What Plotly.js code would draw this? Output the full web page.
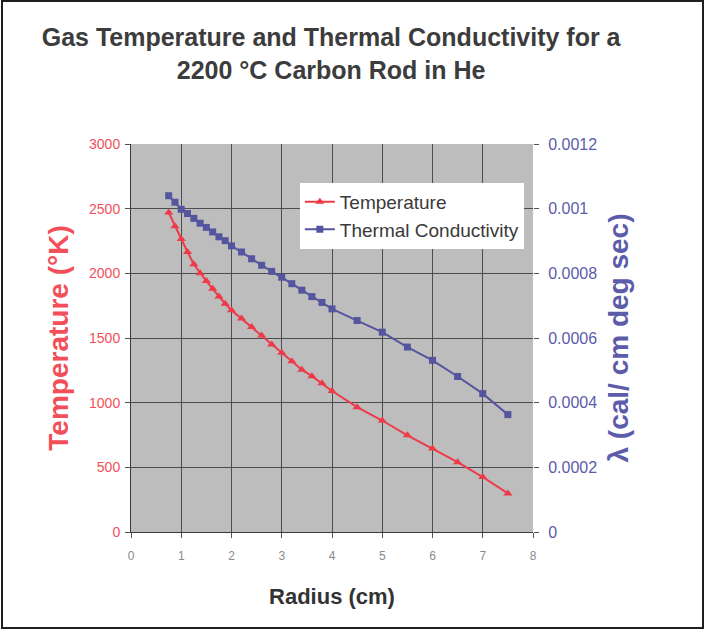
<!DOCTYPE html>
<html>
<head>
<meta charset="utf-8">
<script src="https://cdn.plot.ly/plotly-3.0.1.min.js"></script>
<style>
  html, body { margin: 0; padding: 0; background: #ffffff; }
  #wrap { position: relative; width: 706px; height: 630px; }
  #chart { position: absolute; left: 0; top: 0; width: 706px; height: 630px; }
  #frame { position: absolute; left: 1px; top: 0px; width: 703px; height: 629px;
           border: 2px solid #1e1e1e; box-sizing: border-box; pointer-events: none; }
</style>
</head>
<body>
<div id="wrap">
  <div id="chart"></div>
  <div id="frame"></div>
</div>
<script>
// Radius (cm)
var radius = [0.75, 0.875, 1.0, 1.125, 1.25, 1.375, 1.5, 1.625, 1.75, 1.875, 2.0,
              2.2, 2.4, 2.6, 2.8, 3.0, 3.2, 3.4, 3.6, 3.8, 4.0,
              4.5, 5.0, 5.5, 6.0, 6.5, 7.0, 7.5];
// Gas temperature (°K)
var temperature = [2470, 2365, 2265, 2165, 2070, 2000, 1940, 1880, 1820, 1765, 1715,
                   1650, 1585, 1520, 1450, 1385, 1320, 1255, 1205, 1150, 1090,
                   965, 862, 748, 645, 540, 425, 298];
// Thermal conductivity (cal/ cm deg sec)
var conductivity = [0.00104, 0.00102, 0.000998, 0.000985, 0.00097, 0.000955, 0.000942, 0.000928, 0.000913, 0.000901, 0.000885,
                    0.000866, 0.000845, 0.000825, 0.000806, 0.000788, 0.000768, 0.000748, 0.000728, 0.00071, 0.00069,
                    0.000654, 0.000618, 0.000572, 0.000531, 0.000481, 0.000428, 0.000363];
var seriesNames = ["Temperature", "Thermal Conductivity"];

var font = "Liberation Sans, Arial, Helvetica, sans-serif";
var redLine = "#ee3b49", redText = "#f24f5a";
var blueLine = "#55559f", blueText = "#5c5cab";

var traces = [
  {
    x: radius, y: temperature, name: seriesNames[0], type: "scatter", mode: "lines+markers",
    yaxis: "y",
    line: { color: redLine, width: 2 },
    marker: { symbol: "triangle-up", size: 8, color: redLine }
  },
  {
    x: radius, y: conductivity, name: seriesNames[1], type: "scatter", mode: "lines+markers",
    yaxis: "y2",
    line: { color: blueLine, width: 2 },
    marker: { symbol: "square", size: 7, color: blueLine }
  }
];

var layout = {
  width: 706, height: 630,
  margin: { l: 131, r: 173, t: 144, b: 98, pad: 0 },
  paper_bgcolor: "rgba(0,0,0,0)",
  plot_bgcolor: "#bdbdbd",
  showlegend: true,
  title: {
    text: "<b>Gas Temperature and Thermal Conductivity for a<br>2200 °C Carbon Rod in He</b>",
    font: { family: font, size: 25, color: "#3c3c3c" },
    x: 0.469, xref: "container", xanchor: "center",
    y: 1 - 46 / 630, yref: "container", yanchor: "middle"
  },
  xaxis: {
    range: [0, 8], dtick: 1, tick0: 0,
    showgrid: true, gridcolor: "#4d4d4d", gridwidth: 1,
    zeroline: false,
    showline: true, linecolor: "#3a3a3a", linewidth: 1,
    ticks: "outside", ticklen: 5, tickcolor: "#555555",
    tickfont: { family: font, size: 12, color: "#8a8a8a" },
    ticklabelstandoff: 8,
    title: { text: "<b>Radius (cm)</b>", font: { family: font, size: 22, color: "#333333" }, standoff: 26 }
  },
  yaxis: {
    range: [0, 3000], dtick: 500, tick0: 0,
    showgrid: true, gridcolor: "#4d4d4d", gridwidth: 1,
    zeroline: false,
    showline: true, linecolor: "#3a3a3a", linewidth: 1,
    ticks: "outside", ticklen: 5, tickcolor: "#555555",
    tickfont: { family: font, size: 14, color: redText },
    ticklabelstandoff: 2,
    title: { text: "<b>Temperature (°K)</b>", font: { family: font, size: 28, color: redText }, standoff: 12 }
  },
  yaxis2: {
    overlaying: "y", side: "right",
    range: [0, 0.0012], dtick: 0.0002, tick0: 0,
    tickformat: ".4~f",
    showgrid: false, zeroline: false, showline: false,
    ticks: "outside", ticklen: 5, tickcolor: "#555555",
    tickfont: { family: font, size: 16, color: blueText },
    ticklabelstandoff: 6,
    title: { text: "<b>λ (cal/ cm deg sec)</b>", font: { family: font, size: 28, color: blueText }, standoff: 12 }
  },
  legend: {
    x: 0.42, xanchor: "left", y: 0.9, yanchor: "top",
    bgcolor: "#ffffff", borderwidth: 0,
    font: { family: font, size: 19, color: "#3a3a3a" },
    itemwidth: 30, tracegroupgap: 0
  }
};

Plotly.newPlot("chart", traces, layout, { staticPlot: true, displayModeBar: false });
</script>
</body>
</html>
